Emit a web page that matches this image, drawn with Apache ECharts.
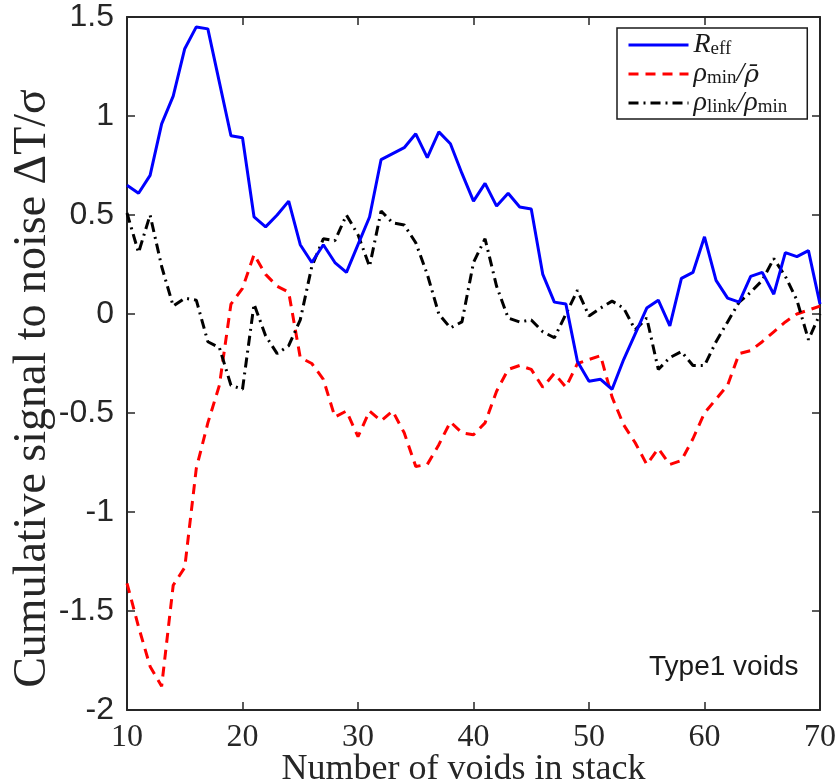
<!DOCTYPE html>
<html>
<head>
<meta charset="utf-8">
<script src="https://cdn.jsdelivr.net/npm/echarts@6/dist/echarts.min.js"></script>
<style>html,body{margin:0;padding:0;background:#fff}#c{width:840px;height:784px}</style>
</head>
<body>
<div id="c"></div>
<script>
// Number of voids in stack
var voids = [10,11,12,13,14,15,16,17,18,19,20,21,22,23,24,25,26,27,28,29,30,31,32,33,34,35,36,37,38,39,40,41,42,43,44,45,46,47,48,49,50,51,52,53,54,55,56,57,58,59,60,61,62,63,64,65,66,67,68,69,70];
// R_eff
var rEff = [0.65,0.61,0.70,0.96,1.10,1.34,1.45,1.44,1.17,0.90,0.89,0.49,0.44,0.50,0.57,0.35,0.26,0.35,0.26,0.21,0.35,0.49,0.78,0.81,0.84,0.91,0.79,0.92,0.86,0.71,0.57,0.66,0.545,0.61,0.54,0.53,0.20,0.06,0.05,-0.24,-0.34,-0.33,-0.38,-0.23,-0.10,0.03,0.07,-0.06,0.18,0.21,0.39,0.17,0.08,0.06,0.19,0.21,0.10,0.31,0.29,0.32,0.05];
// rho_min / rho_bar
var rhoMin = [-1.36,-1.58,-1.78,-1.88,-1.37,-1.28,-0.78,-0.55,-0.36,0.05,0.13,0.30,0.20,0.14,0.11,-0.22,-0.25,-0.33,-0.52,-0.49,-0.62,-0.49,-0.54,-0.49,-0.60,-0.77,-0.76,-0.66,-0.545,-0.60,-0.61,-0.55,-0.39,-0.28,-0.26,-0.28,-0.37,-0.30,-0.37,-0.25,-0.23,-0.21,-0.42,-0.56,-0.65,-0.76,-0.68,-0.76,-0.74,-0.63,-0.50,-0.43,-0.36,-0.20,-0.185,-0.14,-0.09,-0.04,0.0,0.02,0.04];
// rho_link / rho_min
var rhoLink = [0.51,0.31,0.50,0.24,0.04,0.08,0.07,-0.14,-0.17,-0.36,-0.38,0.05,-0.11,-0.20,-0.16,-0.03,0.24,0.38,0.37,0.50,0.40,0.24,0.52,0.46,0.45,0.36,0.20,0.0,-0.07,-0.04,0.26,0.38,0.14,-0.02,-0.04,-0.03,-0.09,-0.12,0.0,0.12,-0.01,0.03,0.065,0.03,-0.08,-0.02,-0.28,-0.22,-0.19,-0.26,-0.26,-0.14,-0.04,0.06,0.11,0.17,0.28,0.19,0.07,-0.13,0.0];

var seriesNames = ['R_eff','rho_min/rho_bar','rho_link/rho_min'];
var legendRich = {
  'R_eff': '{it|R}{sub|eff}',
  'rho_min/rho_bar': '{it|ρ}{sub|min}{n|/}{bar|ρ̄}',
  'rho_link/rho_min': '{it|ρ}{sub|link}{n|/}{it|ρ}{sub|min}'
};

function pairs(ys){ return voids.map(function(x,i){ return [x, ys[i]]; }); }

var axisColor = '#262626';
var chart = echarts.init(document.getElementById('c'), null, {renderer:'canvas'});
chart.setOption({
  animation: false,
  backgroundColor: '#fff',
  grid: {left:127, right:20, top:17, bottom:74, outerBoundsMode:'none', containLabel:false},
  title: {
    text: 'Type1 voids', left: 649, top: 653, padding: 0,
    textStyle: {fontFamily:'Liberation Sans', fontSize:28, fontWeight:'normal', color:'#1a1a1a'}
  },
  legend: {
    orient:'vertical', left:617, top:28, padding:[2,20,2,10],
    backgroundColor:'#fff', borderColor:'#1a1a1a', borderWidth:1.5, borderRadius:0,
    itemWidth:60, itemHeight:14, itemGap:0,
    itemStyle:{color:'transparent', borderColor:'transparent', borderWidth:0, opacity:0},
    lineStyle:{width:3},
    data: seriesNames,
    formatter: function(name){ return legendRich[name]; },
    textStyle: {
      color:'#1a1a1a',
      rich: {
        it: {fontFamily:'Liberation Serif', fontStyle:'italic', fontSize:28, color:'#1a1a1a', lineHeight:28, verticalAlign:'bottom'},
        bar: {fontFamily:'DejaVu Serif', fontStyle:'italic', fontSize:25, color:'#1a1a1a', lineHeight:28, verticalAlign:'bottom'},
        n: {fontFamily:'Liberation Serif', fontStyle:'italic', fontSize:28, color:'#1a1a1a', lineHeight:28, verticalAlign:'bottom'},
        sub: {fontFamily:'Liberation Serif', fontSize:19, color:'#1a1a1a', lineHeight:28, padding:[10,0,0,0], verticalAlign:'bottom'}
      }
    }
  },
  xAxis: [{
    type:'value', min:10, max:70, interval:10, position:'bottom',
    name:'Number of voids in stack', nameLocation:'middle', nameGap:42, nameMoveOverlap:false,
    nameTextStyle:{fontFamily:'Liberation Serif', fontSize:36, color:axisColor, padding:[0,20,0,0]},
    axisLine:{show:true, onZero:false, lineStyle:{color:axisColor, width:2}},
    axisTick:{show:true, inside:true, length:8, lineStyle:{color:axisColor, width:1.5}},
    axisLabel:{fontFamily:'Liberation Serif', fontSize:32, color:axisColor, margin:12},
    splitLine:{show:false}
  },{
    type:'value', min:10, max:70, interval:10, position:'top',
    axisLine:{show:true, onZero:false, lineStyle:{color:axisColor, width:2}},
    axisTick:{show:true, inside:true, length:8, lineStyle:{color:axisColor, width:1.5}},
    axisLabel:{show:false}, splitLine:{show:false}
  }],
  yAxis: [{
    type:'value', min:-2, max:1.5, interval:0.5, position:'left',
    name:'Cumulative signal to noise ΔT/σ', nameLocation:'middle', nameGap:71, nameMoveOverlap:false,
    nameTextStyle:{fontFamily:'Liberation Serif', fontSize:46, color:axisColor, padding:[0,50,0,0]},
    axisLine:{show:true, onZero:false, lineStyle:{color:axisColor, width:2}},
    axisTick:{show:true, inside:true, length:8, lineStyle:{color:axisColor, width:1.5}},
    axisLabel:{fontFamily:'Liberation Sans', fontSize:32, color:axisColor, margin:13},
    splitLine:{show:false}
  },{
    type:'value', min:-2, max:1.5, interval:0.5, position:'right',
    axisLine:{show:true, onZero:false, lineStyle:{color:axisColor, width:2}},
    axisTick:{show:true, inside:true, length:8, lineStyle:{color:axisColor, width:1.5}},
    axisLabel:{show:false}, splitLine:{show:false}
  }],
  series: [{
    name: seriesNames[0], type:'line', data: pairs(rEff), symbol:'none',
    lineStyle:{color:'#0000ff', width:3, type:'solid'}, itemStyle:{color:'#0000ff'}, z:3
  },{
    name: seriesNames[1], type:'line', data: pairs(rhoMin), symbol:'none',
    lineStyle:{color:'#ff0000', width:3, type:[10,7]}, itemStyle:{color:'#ff0000'}, z:2
  },{
    name: seriesNames[2], type:'line', data: pairs(rhoLink), symbol:'none',
    lineStyle:{color:'#000000', width:3, type:[10,5,2,5]}, itemStyle:{color:'#000000'}, z:2
  }]
});
</script>
</body>
</html>
